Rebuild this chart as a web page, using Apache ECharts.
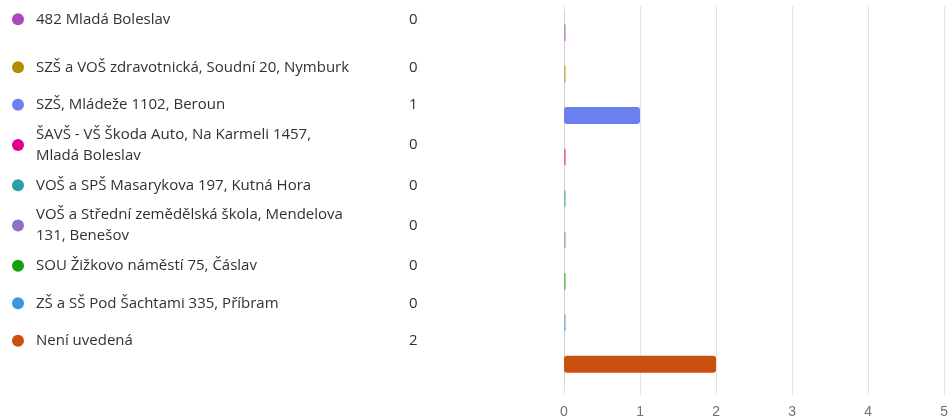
<!DOCTYPE html>
<html>
<head>
<meta charset="utf-8">
<script src="https://cdn.jsdelivr.net/npm/echarts@6/dist/echarts.min.js"></script>
<style>
  html, body { margin: 0; padding: 0; background: #fff; }
  #chart { width: 951px; height: 419px; }
</style>
</head>
<body>
<div id="chart"></div>
<script>
// kategorie (školy)
const categories = [
  "482 Mladá Boleslav",
  "SZŠ a VOŠ zdravotnická, Soudní 20, Nymburk",
  "SZŠ, Mládeže 1102, Beroun",
  "ŠAVŠ - VŠ Škoda Auto, Na Karmeli 1457,\nMladá Boleslav",
  "VOŠ a SPŠ Masarykova 197, Kutná Hora",
  "VOŠ a Střední zemědělská škola, Mendelova\n131, Benešov",
  "SOU Žižkovo náměstí 75, Čáslav",
  "ZŠ a SŠ Pod Šachtami 335, Příbram",
  "Není uvedená",
];
// počty odpovědí
const counts = [0, 0, 1, 0, 0, 0, 0, 0, 2];
// barvy
const colors = [
  "#B146C2", "#B28E00", "#6A80F0", "#E3008C", "#2AA0A4",
  "#8F72C4", "#13A10E", "#3A96DD", "#CA5010",
];
// popisky osy x
const xTicks = [0, 1, 2, 3, 4, 5];

const valueOf = {};
categories.forEach((c, i) => (valueOf[c] = counts[i]));

const chart = echarts.init(document.getElementById("chart"));

const textColor = "#323130";
const font = "'Open Sans', 'Noto Sans', sans-serif";
const fs = 15;

const isDouble = (name) => name.indexOf("\n") >= 0;

// položky legendy – výška řádku podle počtu řádků textu
function items(names, doubleLine) {
  return names.map((name) => ({
    name: name,
    textStyle: { lineHeight: isDouble(name) ? doubleLine : 36.5 },
  }));
}

// společné nastavení legendy (seznam vlevo)
function baseLegend(left, top) {
  return {
    orient: "vertical",
    left: left,
    top: top,
    padding: 0,
    itemGap: 1,
    itemWidth: 12,
    itemHeight: 12,
    icon: "circle",
    selectedMode: false,
  };
}

// legenda se jmény
function nameLegend(names, top) {
  return Object.assign(baseLegend(12, top), {
    data: items(names, 21),
    formatter: (name) => "{n|" + name + "}",
    textStyle: {
      color: textColor,
      fontFamily: font,
      fontSize: fs,
      rich: {
        n: { padding: [0, 0, 0, 7], fontSize: fs, fontFamily: font, color: textColor },
      },
    },
  });
}
// legenda s hodnotami
function valueLegend(names, top) {
  return Object.assign(baseLegend(392, top), {
    data: items(names, 42),
    itemStyle: { color: "rgba(0,0,0,0)", opacity: 0 },
    formatter: (name) => String(valueOf[name]),
    textStyle: { color: textColor, fontFamily: font, fontSize: fs },
  });
}

const series = categories.map((name, i) => ({
  type: "bar",
  name: name,
  stack: "total",
  barWidth: 17,
  barMinHeight: 2,
  itemStyle: { color: colors[i], borderRadius: 3 },
  data: categories.map((c, j) =>
    j === i
      ? { value: counts[i], itemStyle: { opacity: counts[i] === 0 ? 0.45 : 1 } }
      : "-"
  ),
}));

const gridLine = "#e4e4e4";

const option = {
  animation: false,
  legend: [
    nameLegend(categories.slice(0, 1), 1),
    nameLegend(categories.slice(1), 49),
    valueLegend(categories.slice(0, 1), 1),
    valueLegend(categories.slice(1), 49),
  ],
  grid: { left: 564, right: 5, top: 12, bottom: 34 },
  xAxis: [
    {
      type: "value",
      min: xTicks[0],
      max: xTicks[xTicks.length - 1],
      interval: 1,
      axisLine: { show: false },
      axisTick: { show: true, length: 10, lineStyle: { color: gridLine } },
      splitLine: { lineStyle: { color: gridLine } },
      axisLabel: {
        margin: 20,
        color: "#707070",
        fontSize: 14,
        fontFamily: "'Liberation Sans', Arial, sans-serif",
      },
    },
    {
      type: "value",
      position: "top",
      min: xTicks[0],
      max: xTicks[xTicks.length - 1],
      interval: 1,
      axisLine: { show: false },
      axisTick: { show: true, length: 6, lineStyle: { color: gridLine } },
      splitLine: { show: false },
      axisLabel: { show: false },
    },
  ],
  yAxis: {
    type: "category",
    inverse: true,
    data: categories,
    axisLine: { show: true, lineStyle: { color: "#d0d0d0" } },
    axisTick: { show: false },
    axisLabel: { show: false },
  },
  series: series,
};

chart.setOption(option);
</script>
</body>
</html>
